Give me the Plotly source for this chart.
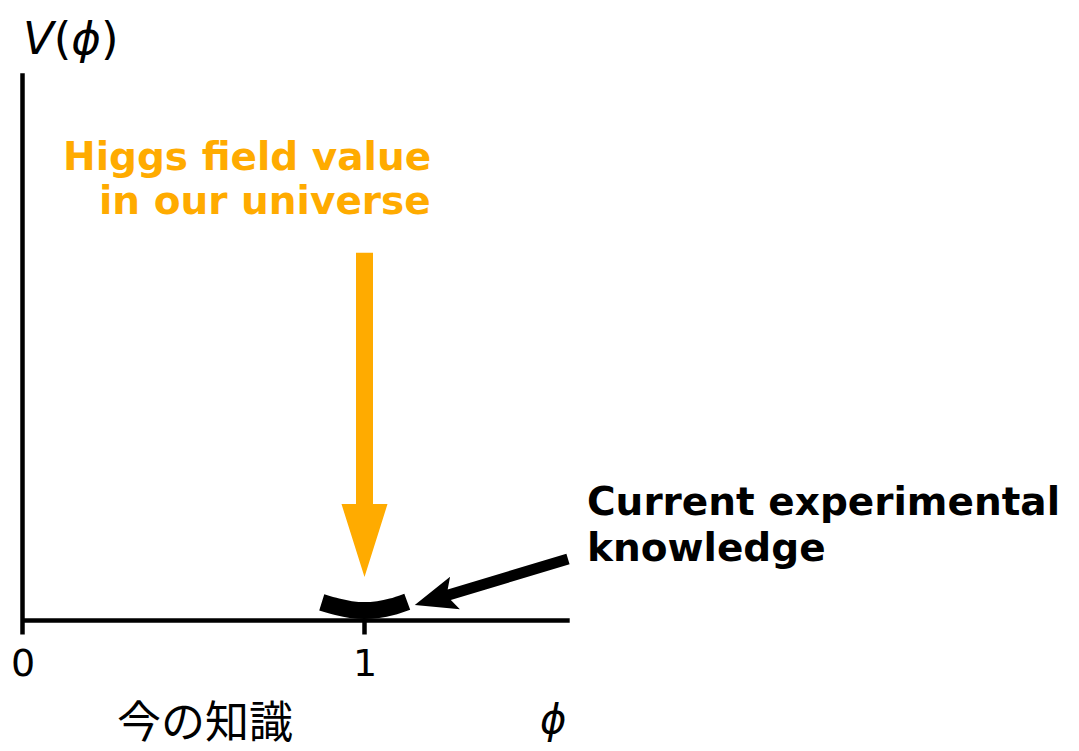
import numpy as np
import plotly.graph_objects as go

# ---------------- data ----------------
axis_phi = [0.0, 1.6]            # extent of the phi axis
axis_V = [0.0, 1.6]              # extent of the V axis
tick_vals = [0, 1]
tick_labels = ["0", "1"]

arc_phi = [0.875, 0.92, 0.96, 1.0, 1.04, 1.08, 1.125]
arc_V = [0.053, 0.040, 0.032, 0.029, 0.032, 0.040, 0.055]

higgs_arrow_phi = [1.0, 1.0]          # tail, tip
higgs_arrow_V = [1.075, 0.127]
know_arrow_phi = [1.595, 1.147]       # tail, tip
know_arrow_V = [0.180, 0.045]

label_higgs = ["Higgs field value", "in our universe"]
label_know = ["Current experimental", "knowledge"]
label_jp = "今の知識"
label_yaxis = "<i>V</i>(<i>ϕ</i>)"
label_xaxis = "<i>ϕ</i>"

# ---------------- styling ----------------
OFF = 8                          # page body margin
W, H = 1079 - OFF, 751 - OFF
PX = 1.0 / 342.0                 # data units per pixel
X0, Y0 = 22.5 - OFF, 620.5 - OFF  # pixel position of the origin in the figure
xr = [-X0 * PX, (W - X0) * PX]
yr = [-(H - Y0) * PX, Y0 * PX]
ORANGE = "#FFAB00"
BLACK = "#000000"
FONT = "DejaVu Sans"


def px_x(p):
    return (p - OFF - X0) * PX


def px_y(p):
    return (Y0 - (p - OFF)) * PX


def arrow_polygon(tail, tip, w, hw, hl, notch=0.0):
    tail = np.array(tail, float)
    tip = np.array(tip, float)
    d = tip - tail
    u = d / np.linalg.norm(d)
    n = np.array([-u[1], u[0]])
    base = tip - u * hl
    neck = base + u * notch
    pts = [tail + n * w, neck + n * w, base + n * hw, tip,
           base - n * hw, neck - n * w, tail - n * w, tail + n * w]
    return [p[0] for p in pts], [p[1] for p in pts]


fig = go.Figure()

# axes (vertical line continues down into the tick at 0)
fig.add_trace(go.Scatter(x=[axis_phi[0], axis_phi[0]], y=[axis_V[1], -14 * PX],
                         mode="lines", line=dict(color=BLACK, width=4.5),
                         hoverinfo="skip", showlegend=False))
fig.add_trace(go.Scatter(x=[axis_phi[0], axis_phi[1]], y=[axis_V[0], axis_V[0]],
                         mode="lines", line=dict(color=BLACK, width=4.5),
                         hoverinfo="skip", showlegend=False))
for tv in tick_vals[1:]:
    fig.add_trace(go.Scatter(x=[tv, tv], y=[0, -14 * PX], mode="lines",
                             line=dict(color=BLACK, width=4.5),
                             hoverinfo="skip", showlegend=False))

# the arc (current experimental knowledge)
fig.add_trace(go.Scatter(x=arc_phi, y=arc_V, mode="lines",
                         line=dict(color=BLACK, width=17, shape="spline"),
                         hoverinfo="skip", showlegend=False))

# yellow arrow
ax_, ay_ = arrow_polygon((higgs_arrow_phi[0], higgs_arrow_V[0]),
                         (higgs_arrow_phi[1], higgs_arrow_V[1]),
                         8.5 * PX, 23 * PX, 73 * PX)
fig.add_trace(go.Scatter(x=ax_, y=ay_, mode="lines", fill="toself",
                         fillcolor=ORANGE, line=dict(width=0, color=ORANGE),
                         hoverinfo="skip", showlegend=False))

# black arrow
bx_, by_ = arrow_polygon((know_arrow_phi[0], know_arrow_V[0]),
                         (know_arrow_phi[1], know_arrow_V[1]),
                         5.5 * PX, 17 * PX, 42 * PX, notch=6 * PX)
fig.add_trace(go.Scatter(x=bx_, y=by_, mode="lines", fill="toself",
                         fillcolor=BLACK, line=dict(width=0, color=BLACK),
                         hoverinfo="skip", showlegend=False))

ann = []
# tick labels
for tv, tl in zip(tick_vals, tick_labels):
    ann.append(dict(x=tv, y=-42 * PX, text=tl, showarrow=False,
                    xanchor="center", yanchor="middle",
                    font=dict(family=FONT, size=38, color=BLACK)))
# axis labels
ann.append(dict(x=px_x(71), y=px_y(38), text=label_yaxis, showarrow=False,
                xanchor="center", yanchor="middle",
                font=dict(family=FONT, size=45, color=BLACK)))
ann.append(dict(x=px_x(553), y=px_y(719), text=label_xaxis, showarrow=False,
                xanchor="center", yanchor="middle",
                font=dict(family=FONT, size=40, color=BLACK)))
ann.append(dict(x=px_x(205), y=px_y(719), text=label_jp, showarrow=False,
                xanchor="center", yanchor="middle",
                font=dict(family="Noto Sans CJK JP", size=44, color=BLACK)))
# Higgs label (right aligned)
for i, t in enumerate(label_higgs):
    ann.append(dict(x=px_x(433), y=px_y(156 + 44 * i), text="<b>%s</b>" % t,
                    showarrow=False, xanchor="right", yanchor="middle",
                    font=dict(family=FONT, size=39, color=ORANGE)))
# knowledge label (left aligned)
for i, t in enumerate(label_know):
    ann.append(dict(x=px_x(585), y=px_y(501 + 46 * i), text="<b>%s</b>" % t,
                    showarrow=False, xanchor="left", yanchor="middle",
                    font=dict(family=FONT, size=39, color=BLACK)))

fig.update_layout(
    width=W, height=H,
    margin=dict(l=0, r=0, t=0, b=0),
    paper_bgcolor="white", plot_bgcolor="white",
    xaxis=dict(range=xr, visible=False, fixedrange=True),
    yaxis=dict(range=yr, visible=False, fixedrange=True),
    annotations=ann,
    showlegend=False,
)

fig.write_html("out.html")
